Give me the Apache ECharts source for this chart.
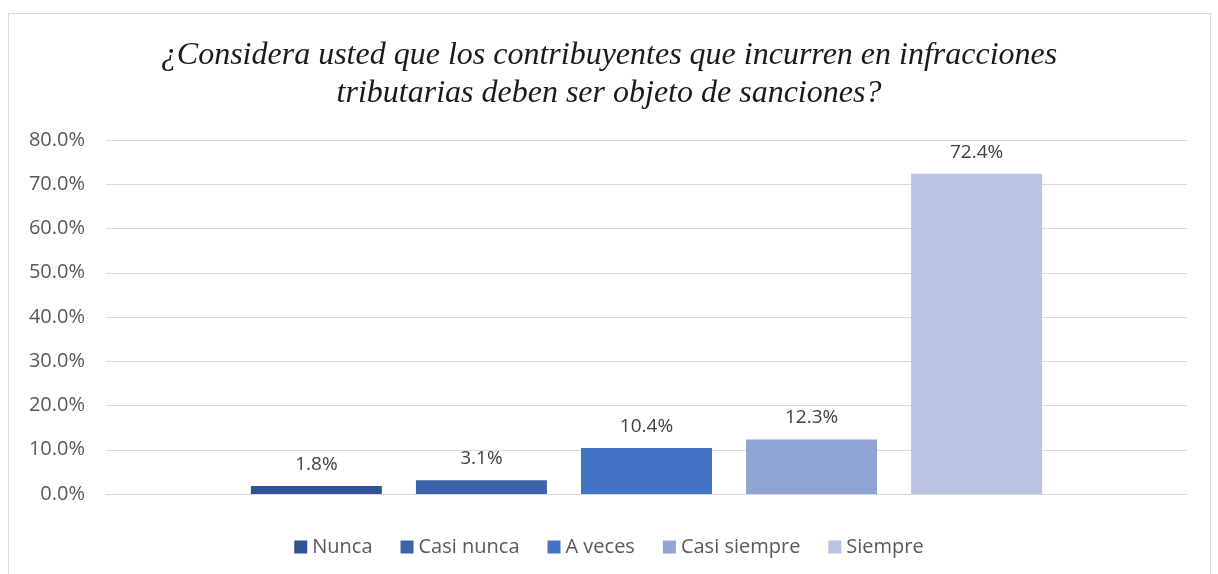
<!DOCTYPE html>
<html>
<head>
<meta charset="utf-8">
<script src="https://cdn.jsdelivr.net/npm/echarts@6/dist/echarts.min.js"></script>
<style>
  html, body { margin: 0; padding: 0; background: #fff; }
  #chart { width: 1218px; height: 574px; }
</style>
</head>
<body>
<div id="chart"></div>
<script>
var seriesNames = ['Nunca', 'Casi nunca', 'A veces', 'Casi siempre', 'Siempre'];
var seriesValues = [1.8, 3.1, 10.4, 12.3, 72.4];
var seriesColors = ['#305596', '#3b63aa', '#4472c4', '#8fa3d4', '#b9c3e2'];
var yTicks = [0, 10, 20, 30, 40, 50, 60, 70, 80];

var myChart = echarts.init(document.getElementById('chart'));

var series = seriesNames.map(function (name, i) {
    return {
        name: name,
        type: 'bar',
        data: [seriesValues[i]],
        barWidth: 131,
        barGap: '26%',
        itemStyle: { color: seriesColors[i] },
        label: {
            show: true,
            position: 'top',
            distance: 12,
            formatter: function (p) { return p.value.toFixed(1) + '%'; },
            color: '#404040',
            fontSize: 19,
            fontFamily: 'Open Sans'
        }
    };
});

option = {
    animation: false,
    title: {
        text: '¿Considera usted que los contribuyentes que incurren en infracciones\ntributarias deben ser objeto de sanciones?',
        left: 'center',
        top: 32,
        textStyle: {
            fontFamily: 'Liberation Serif',
            fontStyle: 'italic',
            fontWeight: 'normal',
            fontSize: 32,
            lineHeight: 38,
            color: '#1a1a1a'
        }
    },
    legend: {
        bottom: 12,
        left: 'center',
        itemWidth: 13,
        itemHeight: 13,
        itemGap: 28,
        icon: 'rect',
        textStyle: { color: '#595959', fontSize: 20, fontFamily: 'Open Sans' },
        data: seriesNames
    },
    grid: { left: 106, right: 31, top: 140, bottom: 80 },
    xAxis: {
        type: 'category',
        data: [''],
        axisLine: { lineStyle: { color: '#d9d9d9' } },
        axisTick: { show: false },
        axisLabel: { show: false }
    },
    yAxis: {
        type: 'value',
        min: yTicks[0],
        max: yTicks[yTicks.length - 1],
        interval: 10,
        axisLine: { show: false },
        axisTick: { show: false },
        splitLine: { lineStyle: { color: '#d9d9d9', width: 1 } },
        axisLabel: {
            margin: 21,
            color: '#595959',
            fontSize: 20,
            fontFamily: 'Open Sans',
            formatter: function (v) { return v.toFixed(1) + '%'; }
        }
    },
    graphic: [{
        type: 'rect',
        shape: { x: 8.5, y: 13.5, width: 1202, height: 600 },
        style: { fill: 'none', stroke: '#d9d9d9', lineWidth: 1 },
        silent: true
    }],
    series: series
};
myChart.setOption(option);
</script>
</body>
</html>
